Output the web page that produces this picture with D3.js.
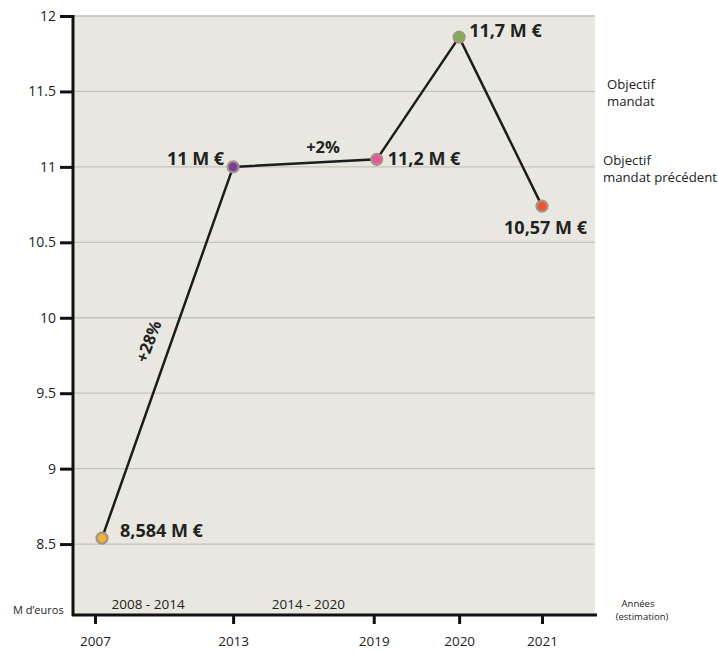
<!DOCTYPE html>
<html><head><meta charset="utf-8">
<script src="https://cdn.jsdelivr.net/npm/d3@7"></script>
<style>body{margin:0;background:#fff;} text{font-family:"Open Sans",sans-serif;fill:#222;}</style>
</head><body><svg id="c" width="718" height="653"></svg>
<script>
const years = ["2007","2013","2019","2020","2021"];
const values = [8.54, 11.0, 11.05, 11.86, 10.74];
const valueLabels = ["8,584 M €","11 M €","11,2 M €","11,7 M €","10,57 M €"];
const pointColors = ["#eeb23a","#7a3d9c","#e9559d","#7fb14a","#f0532f"];
const yTicks = [8.5, 9, 9.5, 10, 10.5, 11, 11.5, 12];
const yTickLabels = ["8.5","9","9.5","10","10.5","11","11.5","12"];
const xSlots = [0, 1.65, 3.33, 4.35, 5.34]; // relative horizontal slots of categories
const periods = ["2008 - 2014","2014 - 2020"];
const objectives = [{v:11.5, lines:["Objectif","mandat"]},{v:11.0, lines:["Objectif","mandat précédent"]}];

const svg = d3.select("#c");
const L = 73, R = 595, T = 16, B = 615;
const y = d3.scaleLinear().domain([8.03, 12]).range([B, T]);
const x = d3.scaleLinear().domain([0, 5.34]).range([95, 542]);
const xp = i => x(xSlots[i]);
const xm = i => xp(i) + (i === 0 ? 7 : (i === 2 ? 3 : 0)); // marker x

svg.append("rect").attr("x", L).attr("y", T - 1).attr("width", R - L).attr("height", B - T + 1).attr("fill", "#e9e8e0");

// gridlines
svg.append("g").selectAll("line").data(yTicks).join("line")
  .attr("x1", L).attr("x2", R).attr("y1", d => y(d)).attr("y2", d => y(d))
  .attr("stroke", "#c4c3bd").attr("stroke-width", 1.3);

// y axis
const yAxis = svg.append("g").attr("transform", `translate(${L},0)`)
  .call(d3.axisLeft(y).tickValues(yTicks).tickFormat((d, i) => yTickLabels[i]).tickSize(13).tickPadding(4));
yAxis.select(".domain").remove();
yAxis.selectAll(".tick line").attr("stroke", "#111").attr("stroke-width", 3);
yAxis.selectAll(".tick text").attr("font-size", 14).attr("fill", "#222").attr("font-family", "Open Sans");
svg.append("line").attr("x1", L).attr("x2", L).attr("y1", T - 1).attr("y2", B + 1).attr("stroke", "#111").attr("stroke-width", 3);

// x axis
const xAxis = svg.append("g").attr("transform", `translate(0,${B})`)
  .call(d3.axisBottom(x).tickValues(xSlots).tickFormat((d, i) => years[i]).tickSize(9).tickPadding(12));
xAxis.select(".domain").remove();
xAxis.selectAll(".tick line").attr("stroke", "#111").attr("stroke-width", 3);
xAxis.selectAll(".tick text").attr("font-size", 13.5).attr("fill", "#222").attr("font-family", "Open Sans");
svg.append("line").attr("x1", L - 1).attr("x2", R + 2).attr("y1", B).attr("y2", B).attr("stroke", "#111").attr("stroke-width", 3);

// line
const line = d3.line().x((d, i) => xm(i)).y(d => y(d));
svg.append("path").datum(values).attr("d", line).attr("fill", "none").attr("stroke", "#1c1c1c").attr("stroke-width", 2.5);

svg.append("g").selectAll("circle").data(values).join("circle")
  .attr("cx", (d, i) => xm(i)).attr("cy", d => y(d)).attr("r", 5.5)
  .attr("fill", (d, i) => pointColors[i]).attr("stroke", "#a39484").attr("stroke-width", 2.2);

// value labels
const lab = [
  {dx: 18, dy: -6, anchor: "start"},
  {dx: -9, dy: -7, anchor: "end"},
  {dx: 11, dy: 1, anchor: "start"},
  {dx: 10, dy: -5, anchor: "start"},
  {dx: 45, dy: 23, anchor: "end"}
];
svg.append("g").selectAll("text").data(values).join("text")
  .attr("x", (d, i) => xm(i) + lab[i].dx).attr("y", (d, i) => y(d) + lab[i].dy)
  .attr("text-anchor", (d, i) => lab[i].anchor).attr("dominant-baseline", "middle")
  .attr("font-size", 18).attr("font-weight", "bold").attr("fill", "#2a2a2a")
  .text((d, i) => valueLabels[i]);

// growth labels
svg.append("text").attr("x", 323).attr("y", y(11.0) - 14).attr("text-anchor", "middle")
  .attr("font-size", 16.5).attr("font-weight", "bold").attr("fill", "#2a2a2a").text("+2%");
svg.append("text").attr("transform", `translate(150,${y(9.84)}) rotate(-69)`).attr("text-anchor", "middle")
  .attr("dominant-baseline", "middle")
  .attr("font-size", 16.5).attr("font-weight", "bold").attr("fill", "#2a2a2a").text("+28%");

// periods
const periodShift = [-16, 5];
svg.append("g").selectAll("text").data(periods).join("text")
  .attr("x", (d, i) => (xp(i) + xp(i + 1)) / 2 + periodShift[i]).attr("y", B - 6).attr("text-anchor", "middle")
  .attr("font-size", 13.5).attr("fill", "#333").text(d => d);

// objectives
objectives.forEach((o, k) => {
  const x0 = k === 0 ? 607 : 603;
  const t = svg.append("text").attr("x", x0).attr("y", y(o.v) - 2).attr("font-size", 13.2).attr("fill", "#333");
  o.lines.forEach((s, j) => t.append("tspan").attr("x", x0).attr("dy", j === 0 ? 0 : 17).text(s));
});

// unit labels
svg.append("text").attr("x", 13).attr("y", 614).attr("font-size", 11).attr("fill", "#333").text("M d’euros");
svg.append("text").attr("x", 638).attr("y", 607).attr("text-anchor", "middle").attr("font-size", 9.5).attr("fill", "#444").text("Années");
svg.append("text").attr("x", 642).attr("y", 620).attr("text-anchor", "middle").attr("font-size", 9.5).attr("fill", "#444").text("(estimation)");
</script></body></html>
